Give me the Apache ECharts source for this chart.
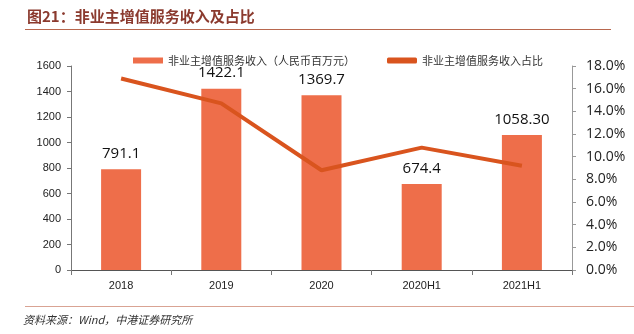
<!DOCTYPE html>
<html><head><meta charset="utf-8">
<script src="https://cdn.jsdelivr.net/npm/echarts@6/dist/echarts.min.js"></script>
<style>html,body{margin:0;padding:0;background:#fff}#c{width:634px;height:334px}</style>
</head><body><div id="c"></div>
<script>
const categories = ['2018', '2019', '2020', '2020H1', '2021H1'];
const revenue = [791.1, 1422.1, 1369.7, 674.4, 1058.30];
const revenueLabels = ['791.1', '1422.1', '1369.7', '674.4', '1058.30'];
const share = [16.9, 14.7, 8.8, 10.8, 9.2];
const leftTicks = [0, 200, 400, 600, 800, 1000, 1200, 1400, 1600];
const rightTicks = ['0.0%', '2.0%', '4.0%', '6.0%', '8.0%', '10.0%', '12.0%', '14.0%', '16.0%', '18.0%'];

const chart = echarts.init(document.getElementById('c'), null, {renderer: 'canvas'});
const cjk = '"Noto Sans CJK SC", sans-serif';
chart.setOption({
  animation: false,
  graphic: [
    {type: 'text', left: 27, top: 9, style: {text: '图21：非业主增值服务收入及占比', fill: '#8B3A2E', font: 'bold 15px "Noto Sans CJK SC"'}},
    {type: 'rect', shape: {x: 25, y: 29, width: 586, height: 1}, style: {fill: '#B8674E'}},
    {type: 'rect', shape: {x: 25, y: 306, width: 610, height: 1}, style: {fill: '#D9A393'}},
    {type: 'text', left: 23, top: 314, style: {text: '资料来源：Wind，中港证券研究所', fill: '#333', font: 'italic 11px "Noto Sans CJK SC"'}}
  ],
  legend: {
    top: 50, left: 128, itemGap: 32, itemWidth: 30, itemHeight: 6,
    textStyle: {fontFamily: cjk, fontSize: 11, color: '#333'},
    data: [
      {name: '非业主增值服务收入（人民币百万元）', icon: 'rect'},
      {name: '非业主增值服务收入占比', icon: 'roundRect'}
    ]
  },
  grid: {left: 71, right: 62, top: 66, bottom: 64},
  xAxis: {
    type: 'category', data: categories,
    axisLine: {lineStyle: {color: '#555', width: 1}},
    axisTick: {show: true, alignWithLabel: false, lineStyle: {color: '#777'}},
    axisLabel: {color: '#222', fontSize: 11, fontFamily: 'Liberation Sans', margin: 10}
  },
  yAxis: [
    {type: 'value', min: 0, max: 1600, interval: 200, position: 'left',
     axisLine: {show: true, lineStyle: {color: '#777'}},
     axisTick: {show: true, length: 4, lineStyle: {color: '#777'}},
     splitLine: {show: false},
     axisLabel: {color: '#222', fontSize: 11, fontFamily: 'Liberation Sans', margin: 10,
       formatter: v => String(leftTicks[leftTicks.indexOf(v)])}},
    {type: 'value', min: 0, max: 18, interval: 2, position: 'right',
     axisLine: {show: true, lineStyle: {color: '#999'}},
     axisTick: {show: true, length: 4, lineStyle: {color: '#999'}},
     splitLine: {show: false},
     axisLabel: {color: '#222', fontSize: 14, fontFamily: '"Open Sans", sans-serif', margin: 14,
       formatter: v => rightTicks[Math.round(v / 2)]}}
  ],
  series: [
    {name: '非业主增值服务收入（人民币百万元）', type: 'bar', data: revenue, barWidth: 40,
     itemStyle: {color: '#EE6E4A'},
     label: {show: true, position: 'top', distance: 8, color: '#111', fontSize: 15, fontFamily: '"Open Sans", sans-serif',
       formatter: p => revenueLabels[p.dataIndex]}},
    {name: '非业主增值服务收入占比', type: 'line', yAxisIndex: 1, data: share,
     symbol: 'none', lineStyle: {color: '#D9541E', width: 4}, itemStyle: {color: '#D9541E'}}
  ]
});
</script></body></html>
